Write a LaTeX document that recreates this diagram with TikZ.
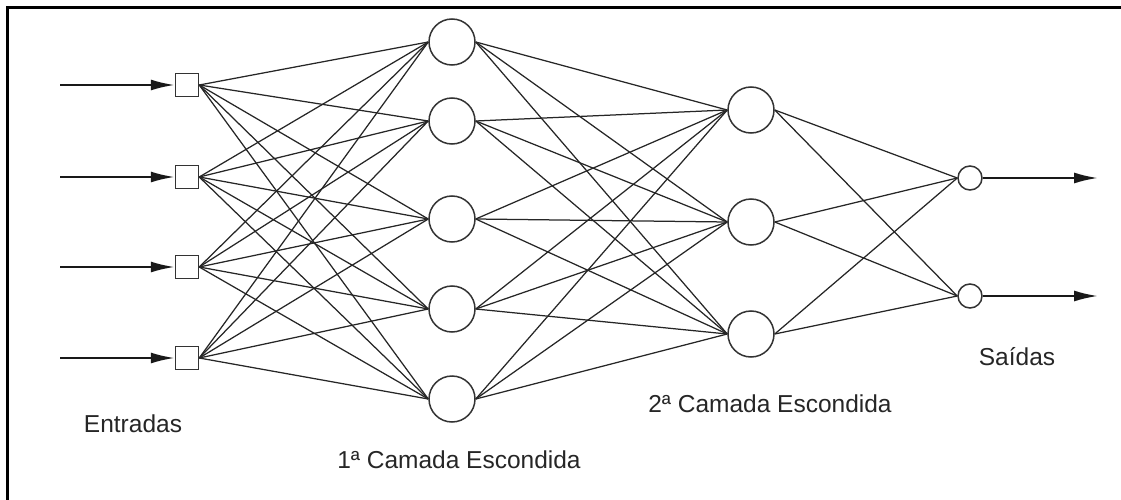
\documentclass[tikz,border=0pt]{standalone}
\usepackage{fontspec}
\setmainfont{Liberation Sans}
\usetikzlibrary{arrows.meta,backgrounds}
\begin{document}
\begin{tikzpicture}[x=1pt,y=-1pt,
  inbox/.style={draw=black!80,line width=1.5pt,minimum size=23pt,inner sep=0pt,fill=white},
  neuron/.style={circle,draw=black!80,line width=1.5pt,minimum size=46pt,inner sep=0pt,fill=white},
  outneuron/.style={circle,draw=black!80,line width=1.5pt,minimum size=24pt,inner sep=0pt,fill=white},
  link/.style={draw=black!85,line width=1.25pt},
  signal/.style={draw=black!90,line width=2.2pt,-{Latex[length=24pt,width=11pt]}},
  caption/.style={font=\fontsize{24.5}{28}\selectfont,text=black!85,inner sep=0pt,anchor=base}]
\useasboundingbox (0,0) rectangle (1121,500);
% frame
\draw[line width=3pt] (7.5,500) -- (7.5,7.5) -- (1121,7.5);

% input layer
\foreach \i/\y in {1/85,2/177,3/267,4/358}{
  \node[inbox] (in\i) at (187,\y) {};
  \coordinate (src\i) at (60,\y);
}
% first hidden layer
\foreach \i/\y in {1/42,2/121,3/219,4/309,5/399}
  \node[neuron] (ha\i) at (452,\y) {};
% second hidden layer
\foreach \i/\y in {1/110,2/222,3/334}
  \node[neuron] (hb\i) at (751,\y) {};
% output layer
\foreach \i/\y in {1/178,2/296}{
  \node[outneuron] (out\i) at (970,\y) {};
  \coordinate (dst\i) at (1098,\y);
}

% fully connected links between consecutive layers
\begin{pgfonlayer}{background}
\foreach \i in {1,...,4}
  \foreach \j in {1,...,5}
    \draw[link] (in\i.east) -- (ha\j.west);
\foreach \i in {1,...,5}
  \foreach \j in {1,...,3}
    \draw[link] (ha\i.east) -- (hb\j.west);
\foreach \i in {1,...,3}
  \foreach \j in {1,2}
    \draw[link] (hb\i.east) -- (out\j.west);
\end{pgfonlayer}

% input and output signals
\foreach \i in {1,...,4}
  \draw[signal] (src\i) -- (in\i.west);
\foreach \i in {1,2}
  \draw[signal] (out\i.east) -- (dst\i);

% layer captions
\node[caption] (lin) at (133,432) {Entradas};
\node[caption] (lha) at (459,468) {1ª Camada Escondida};
\node[caption] (lhb) at (770,412) {2ª Camada Escondida};
\node[caption] (lout) at (1017,365) {Saídas};
\end{tikzpicture}
\end{document}
